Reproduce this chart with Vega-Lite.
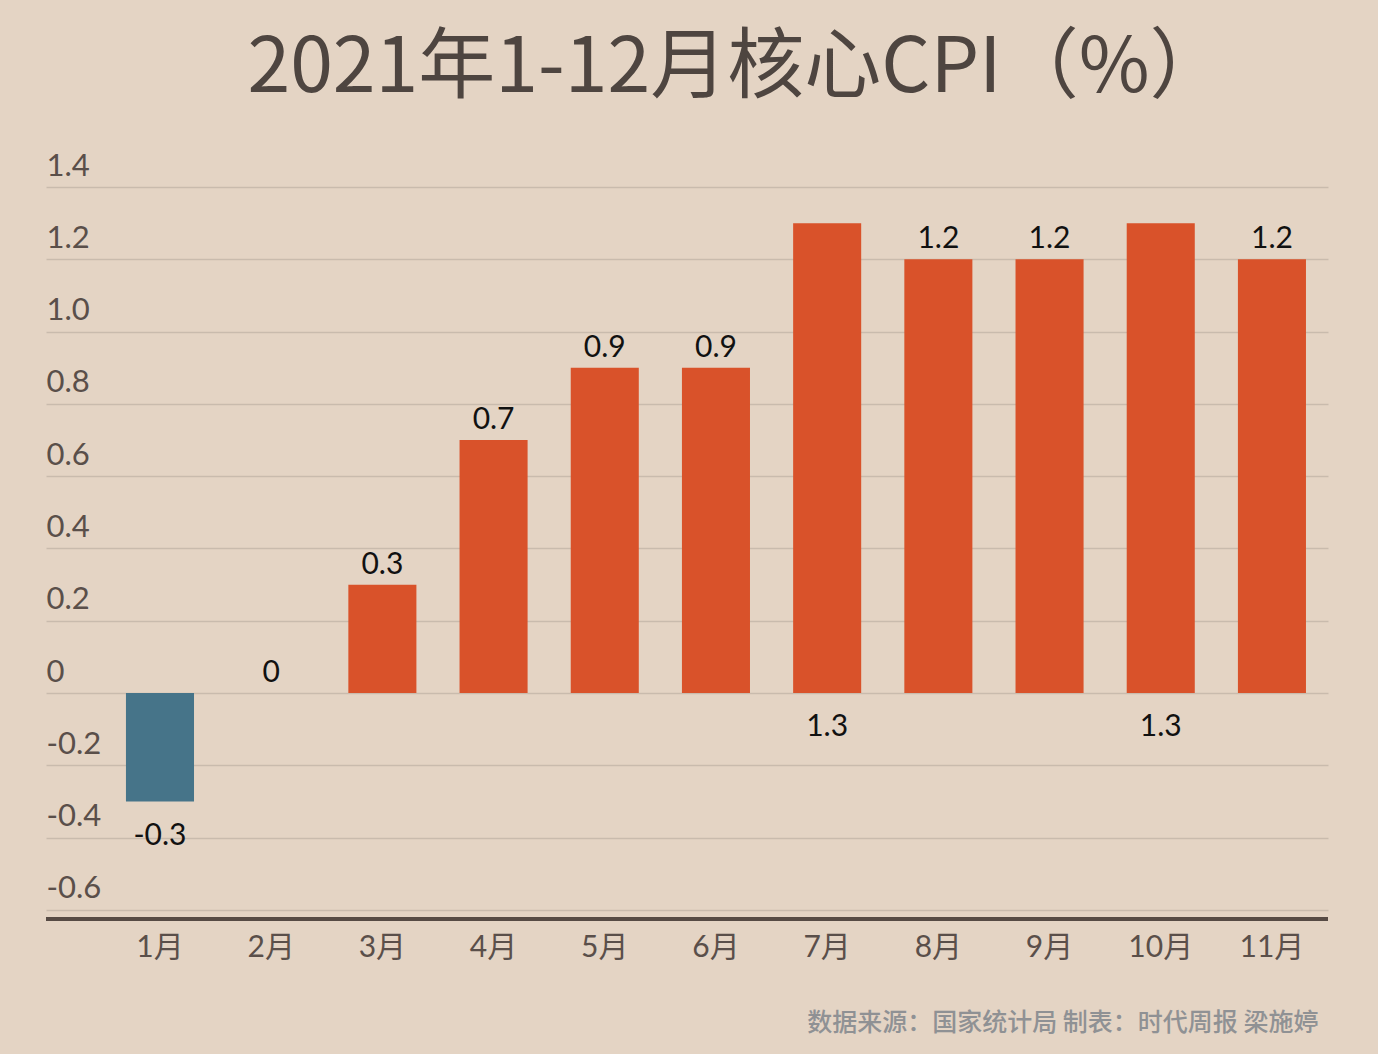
{
  "$schema": "https://vega.github.io/schema/vega-lite/v6.json",
  "width": 1282,
  "height": 732,
  "autosize": {"type": "none"},
  "padding": {"left": 46, "top": 187, "right": 50, "bottom": 135},
  "background": "#e4d4c4",
  "config": {
    "view": {"stroke": null},
    "font": "Lato, 'Noto Sans CJK SC'"
  },
  "title": {
    "text": "2021年1-12月核心CPI（%）",
    "font": "'Noto Sans CJK SC'",
    "fontSize": 77,
    "fontWeight": "normal",
    "color": "#4e4540",
    "anchor": "middle",
    "frame": "group",
    "baseline": "alphabetic",
    "offset": -19,
    "dx": 50
  },
  "data": {
    "values": [
      {"month": "1月", "value": -0.3},
      {"month": "2月", "value": 0},
      {"month": "3月", "value": 0.3},
      {"month": "4月", "value": 0.7},
      {"month": "5月", "value": 0.9},
      {"month": "6月", "value": 0.9},
      {"month": "7月", "value": 1.3},
      {"month": "8月", "value": 1.2},
      {"month": "9月", "value": 1.2},
      {"month": "10月", "value": 1.3},
      {"month": "11月", "value": 1.2}
    ]
  },
  "encoding": {
    "x": {
      "field": "month",
      "type": "ordinal",
      "sort": null,
      "scale": {"paddingInner": 0.388, "paddingOuter": 0.4586, "align": 0.784},
      "axis": {
        "title": "数据来源：国家统计局 制表：时代周报 梁施婷",
        "titleFont": "'Noto Sans CJK SC'",
        "titleFontSize": 25,
        "titleFontWeight": 500,
        "titleColor": "#8f9194",
        "titleAlign": "right",
        "titleAnchor": "end",
        "titleBaseline": "middle",
        "titleX": 1272,
        "titleY": 103,
        "labelAngle": 0,
        "labelFontSize": 30,
        "labelColor": "#5a4f4a",
        "labelPadding": 13,
        "labelBaseline": "top",
        "ticks": false,
        "domain": false,
        "grid": false
      }
    },
    "y": {
      "field": "value",
      "type": "quantitative",
      "scale": {"domain": [-0.625, 1.4], "nice": false, "zero": false},
      "axis": {
        "title": null,
        "values": [-0.6, -0.4, -0.2, 0, 0.2, 0.4, 0.6, 0.8, 1.0, 1.2, 1.4],
        "labelExpr": "datum.value == 0 ? '0' : replace(format(datum.value, '.1f'), '\u2212', '-')",
        "labelAlign": "left",
        "labelBaseline": "alphabetic",
        "labelPadding": 0,
        "labelOffset": -12,
        "labelFontSize": 31,
        "labelColor": "#5a4f4a",
        "ticks": false,
        "domain": false,
        "grid": true,
        "gridColor": "#c9bbad",
        "gridWidth": 1.5
      }
    }
  },
  "layer": [
    {
      "mark": {"type": "rule", "color": "#574b45", "strokeWidth": 3},
      "encoding": {"y": {"datum": -0.625}, "x": null}
    },
    {
      "mark": {"type": "bar"},
      "encoding": {
        "color": {
          "condition": {"test": "datum.value < 0", "value": "#467489"},
          "value": "#d9522a"
        }
      }
    },
    {
      "transform": [{"filter": "datum.value >= 0 && datum.value < 1.25"}],
      "mark": {"type": "text", "baseline": "alphabetic", "dy": -11, "fontSize": 30, "color": "#111111",
        "text": {"expr": "replace(format(datum.value, '~g'), '\u2212', '-')"}},
      "encoding": {}
    },
    {
      "transform": [{"filter": "datum.value < 0"}],
      "mark": {"type": "text", "baseline": "top", "dy": 19, "fontSize": 30, "color": "#111111",
        "text": {"expr": "replace(format(datum.value, '~g'), '\u2212', '-')"}},
      "encoding": {}
    },
    {
      "transform": [{"filter": "datum.value >= 1.25"}],
      "mark": {"type": "text", "baseline": "top", "dy": 19, "fontSize": 30, "color": "#111111",
        "text": {"expr": "replace(format(datum.value, '~g'), '\u2212', '-')"}},
      "encoding": {
        "y": {"datum": 0}
      }
    }
  ]
}
